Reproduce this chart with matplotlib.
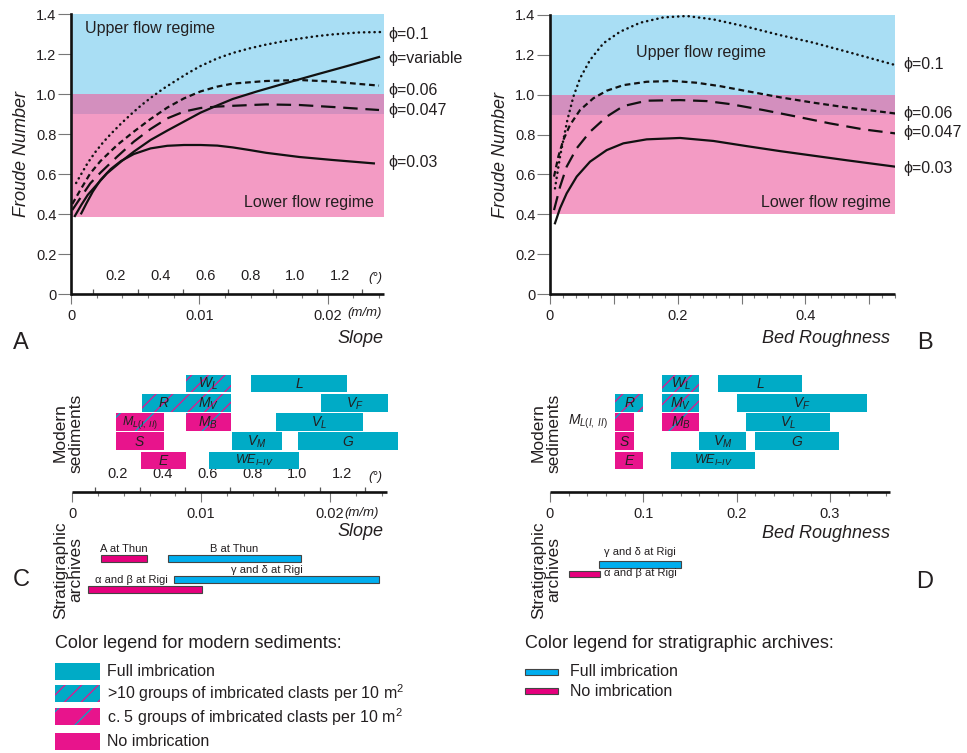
import numpy as np
import matplotlib
matplotlib.use("Agg")
import matplotlib.pyplot as plt
from matplotlib.patches import Rectangle

plt.rcParams['font.family'] = ['Liberation Sans', 'DejaVu Sans']
plt.rcParams['mathtext.fontset'] = 'custom'
plt.rcParams['mathtext.rm'] = 'Liberation Sans'
plt.rcParams['mathtext.it'] = 'Liberation Sans:italic'
plt.rcParams['mathtext.bf'] = 'Liberation Sans:bold'
plt.rcParams['hatch.linewidth'] = 0.9

# ====================== DATA ======================
# Panel A : Froude number vs slope (m/m)
A_phi010_x = [0.0004, 0.0008, 0.0013, 0.0019, 0.0025, 0.0031, 0.0039, 0.0047, 0.0055, 0.0063,
              0.0072, 0.0082, 0.0091, 0.0101, 0.0114, 0.0126, 0.0139, 0.0152, 0.0165, 0.0178,
              0.0191, 0.0204, 0.0225, 0.0243]
A_phi010_y = [0.555, 0.60, 0.655, 0.71, 0.758, 0.80, 0.852, 0.90, 0.945, 0.985,
              1.027, 1.068, 1.104, 1.14, 1.178, 1.205, 1.228, 1.247, 1.263, 1.277,
              1.289, 1.298, 1.308, 1.31]
A_phivar_x = [0.0003, 0.0008, 0.0013, 0.0021, 0.0028, 0.0039, 0.0049, 0.0062, 0.0075, 0.0088,
              0.0101, 0.0114, 0.0126, 0.0145, 0.0165, 0.0191, 0.0217, 0.0240]
A_phivar_y = [0.39, 0.445, 0.495, 0.553, 0.603, 0.662, 0.712, 0.77, 0.817, 0.862,
              0.907, 0.943, 0.975, 1.013, 1.05, 1.097, 1.143, 1.185]
A_phi006_x = [0.0001, 0.0008, 0.0015, 0.0023, 0.0036, 0.0049, 0.0062, 0.0075, 0.0088, 0.0101,
              0.0114, 0.0126, 0.0152, 0.0178, 0.0204, 0.0225, 0.0240]
A_phi006_y = [0.45, 0.528, 0.603, 0.665, 0.745, 0.812, 0.875, 0.932, 0.978, 1.013,
              1.037, 1.052, 1.065, 1.07, 1.062, 1.05, 1.042]
A_phi0047_x = [0.0001, 0.0008, 0.0015, 0.0023, 0.0036, 0.0049, 0.0062, 0.0075, 0.0088, 0.0101,
               0.0114, 0.0126, 0.0152, 0.0178, 0.0204, 0.0240]
A_phi0047_y = [0.42, 0.487, 0.553, 0.607, 0.687, 0.762, 0.825, 0.878, 0.912, 0.93,
               0.937, 0.941, 0.948, 0.945, 0.935, 0.92]
A_phi003_x = [0.0008, 0.0012, 0.0017, 0.0023, 0.0031, 0.0039, 0.0049, 0.0062, 0.0075, 0.0088,
              0.0101, 0.0114, 0.0126, 0.0139, 0.0152, 0.0178, 0.0204, 0.0236]
A_phi003_y = [0.403, 0.453, 0.512, 0.57, 0.625, 0.665, 0.70, 0.728, 0.741, 0.745,
              0.745, 0.742, 0.733, 0.72, 0.706, 0.685, 0.67, 0.653]

# Panel B : Froude number vs bed roughness
B_phi010_x = [0.0078, 0.0115, 0.0157, 0.0209, 0.0272, 0.0366, 0.047, 0.0627, 0.0836, 0.1097,
              0.141, 0.1775, 0.2141, 0.2559, 0.3081, 0.3603, 0.4125, 0.4648, 0.5405]
B_phi010_y = [0.53, 0.605, 0.689, 0.773, 0.873, 0.99, 1.082, 1.174, 1.258, 1.316,
              1.361, 1.388, 1.395, 1.378, 1.341, 1.299, 1.261, 1.216, 1.149]
B_phi006_x = [0.0063, 0.013, 0.0209, 0.0313, 0.047, 0.0679, 0.0888, 0.1149, 0.1514, 0.1932,
              0.2298, 0.2663, 0.3081, 0.3603, 0.4125, 0.4648, 0.5405]
B_phi006_y = [0.589, 0.689, 0.773, 0.848, 0.923, 0.982, 1.02, 1.048, 1.065, 1.069,
              1.06, 1.043, 1.018, 0.987, 0.96, 0.936, 0.906]
B_phi0047_x = [0.0063, 0.0157, 0.0261, 0.0418, 0.0627, 0.0888, 0.1149, 0.1514, 0.2037, 0.2454,
               0.282, 0.3342, 0.3864, 0.4386, 0.4909, 0.5405]
B_phi0047_y = [0.421, 0.538, 0.639, 0.731, 0.814, 0.89, 0.943, 0.97, 0.973, 0.968,
               0.953, 0.923, 0.89, 0.856, 0.826, 0.806]
B_phi003_x = [0.0078, 0.0157, 0.0261, 0.0418, 0.0627, 0.0888, 0.1149, 0.1514, 0.2037, 0.2559,
              0.3081, 0.3603, 0.4125, 0.4648, 0.5405]
B_phi003_y = [0.355, 0.43, 0.505, 0.589, 0.664, 0.722, 0.756, 0.776, 0.783, 0.768,
              0.742, 0.717, 0.694, 0.671, 0.639]

PHI_LABELS_A = ['\u03d5=0.1', '\u03d5=variable', '\u03d5=0.06', '\u03d5=0.047', '\u03d5=0.03']
PHI_LABELS_B = ['\u03d5=0.1', '\u03d5=0.06', '\u03d5=0.047', '\u03d5=0.03']

# Flow regime limits (Froude number)
UPPER_REGIME = (1.0, 1.4)
TRANSITION = (0.9, 1.0)
LOWER_REGIME_A = (0.385, 0.9)
LOWER_REGIME_B = (0.4, 0.9)

FROUDE_TICKS = [0, 0.2, 0.4, 0.6, 0.8, 1.0, 1.2, 1.4]
FROUDE_TICKLABELS = ['0', '0.2', '0.4', '0.6', '0.8', '1.0', '1.2', '1.4']
SLOPE_TICKS = [0, 0.01, 0.02]
SLOPE_TICKLABELS = ['0', '0.01', '0.02']
DEG_TICKS = [0.2, 0.4, 0.6, 0.8, 1.0, 1.2]
DEG_MINOR = [0.1, 0.3, 0.5, 0.7, 0.9, 1.1, 1.3]
ROUGH_TICKS_B = [0, 0.1, 0.2, 0.3, 0.4, 0.5]
ROUGH_TICKLABELS_B = ['0', '', '0.2', '', '0.4', '']
ROUGH_TICKS_D = [0, 0.1, 0.2, 0.3]
ROUGH_TICKLABELS_D = ['0', '0.1', '0.2', '0.3']

# Panel C : modern sediments, slope ranges (m/m)
# class: 'full' = full imbrication, 'many' = >10 groups, 'some' = c. 5 groups, 'none' = no imbrication
C_names = [r'$W_L$', r'$L$', r'$R$', r'$M_V$', r'$V_F$', r'$M_{L(I,\ II)}$', r'$M_B$', r'$V_L$',
           r'$S$', r'$V_M$', r'$G$', r'$E$', r'$WE_{I{-}IV}$']
C_row = [0, 0, 1, 1, 1, 2, 2, 2, 3, 3, 3, 4, 4]
C_start = [0.00882, 0.01387, 0.00543, 0.00882, 0.01928, 0.00339, 0.00882, 0.01581,
           0.00337, 0.01237, 0.01749, 0.00533, 0.01063]
C_end = [0.01229, 0.02130, 0.00882, 0.01229, 0.02453, 0.00712, 0.01229, 0.02254,
         0.00709, 0.01630, 0.02530, 0.00882, 0.01762]
C_class = ['many', 'full', 'many', 'many', 'full', 'some', 'some', 'full',
           'none', 'full', 'full', 'none', 'full']

# Panel D : modern sediments, bed roughness ranges
D_names = [r'$W_L$', r'$L$', r'$R$', r'$M_V$', r'$V_F$', r'$M_{L(I,\ II)}$', r'$M_B$', r'$V_L$',
           r'$S$', r'$V_M$', r'$G$', r'$E$', r'$WE_{I{-}IV}$']
D_row = [0, 0, 1, 1, 1, 2, 2, 2, 3, 3, 3, 4, 4]
D_start = [0.12, 0.18, 0.07, 0.12, 0.20, 0.07, 0.12, 0.21, 0.07, 0.16, 0.22, 0.07, 0.13]
D_end = [0.16, 0.27, 0.10, 0.16, 0.34, 0.09, 0.16, 0.30, 0.09, 0.21, 0.31, 0.10, 0.22]
D_class = ['many', 'full', 'many', 'many', 'full', 'some', 'some', 'full',
           'none', 'full', 'full', 'none', 'full']

# Stratigraphic archives
CS_names = ['A at Thun', 'B at Thun', '\u03b3 and \u03b4 at Rigi', '\u03b1 and \u03b2 at Rigi']
CS_start = [0.00223, 0.00745, 0.00792, 0.00124]
CS_end = [0.00577, 0.01772, 0.02383, 0.01004]
CS_imbricated = [False, True, True, False]
DS_names = ['\u03b3 and \u03b4 at Rigi', '\u03b1 and \u03b2 at Rigi']
DS_start = [0.052, 0.020]
DS_end = [0.140, 0.054]
DS_imbricated = [True, False]

LEGEND_MODERN = ['Full imbrication', '>10 groups of imbricated clasts per 10 m$^2$',
                 'c. 5 groups of imbricated clasts per 10 m$^2$', 'No imbrication']
LEGEND_MODERN_CLASS = ['full', 'many', 'some', 'none']
LEGEND_STRAT = ['Full imbrication', 'No imbrication']

# ====================== STYLE ======================
TXT = '#231F20'
BLUE_BG = '#A9DEF4'
PINK_BG = '#F39BC4'
PURPLE_BG = '#D38FBE'
CYAN = '#00ABC6'
MAGENTA = '#E8148C'
S_CYAN = '#00AEEF'
S_MAG = '#E5007D'
TICKC = '#777777'

W, H = 967, 753
fig = plt.figure(figsize=(W / 100, H / 100), dpi=100)


def add_ax(x0, y0, x1, y1):
    return fig.add_axes([x0 / W, 1 - y1 / H, (x1 - x0) / W, (y1 - y0) / H])


def fx(px):
    return px / W


def fy(py):
    return 1 - py / H


SOLID = dict(ls='-', lw=1.6)
DOTTED = dict(ls=(0, (0.1, 2.0)), lw=1.8, dash_capstyle='round')
SHORT = dict(ls=(0, (2.6, 1.7)), lw=1.6)
LONG = dict(ls=(0, (6.5, 3.5)), lw=1.6)


def style_bottom_spine(ax):
    ax.spines['bottom'].set_linewidth(1.9)
    ax.spines['bottom'].set_color('#111111')
    ax.spines['bottom'].set_capstyle('butt')


def froude_axes(ax, xmax, lower):
    ax.set_xlim(0, xmax)
    ax.set_ylim(0, 1.4)
    ax.axhspan(*UPPER_REGIME, color=BLUE_BG, lw=0, zorder=0)
    ax.axhspan(*TRANSITION, color=PURPLE_BG, lw=0, zorder=0)
    ax.axhspan(*lower, color=PINK_BG, lw=0, zorder=0)
    ax.set_facecolor('none')
    for s in ['top', 'right']:
        ax.spines[s].set_visible(False)
    ax.spines['left'].set_linewidth(1.9)
    ax.spines['left'].set_color('#111111')
    style_bottom_spine(ax)
    ax.set_yticks(FROUDE_TICKS)
    ax.set_yticklabels(FROUDE_TICKLABELS)
    ax.tick_params(axis='y', length=9.5, width=0.8, color=TICKC, pad=1,
                   labelsize=10.5, labelcolor=TXT)
    ax.set_ylabel('Froude Number', fontsize=13, style='italic', color=TXT, labelpad=4)


def slope_xaxis(ax):
    ax.set_xticks(SLOPE_TICKS)
    ax.set_xticklabels(SLOPE_TICKLABELS)
    ax.set_xticks(np.arange(0.002, 0.0245, 0.002), minor=True)
    ax.tick_params(axis='x', which='major', length=7.5, width=0.8, color=TICKC, pad=3,
                   labelsize=10.5, labelcolor=TXT)
    ax.tick_params(axis='x', which='minor', length=3, width=0.8, color=TICKC)
    sec = ax.secondary_xaxis('bottom', functions=(lambda s: np.degrees(np.arctan(s)),
                                                  lambda d: np.tan(np.radians(d))))
    sec.set_xticks(DEG_TICKS)
    sec.set_xticklabels([f'{d:.1f}' for d in DEG_TICKS])
    sec.set_xticks(DEG_MINOR, minor=True)
    sec.tick_params(axis='x', which='major', direction='in', length=0, pad=-18,
                    labelsize=10.5, labelcolor=TXT)
    sec.tick_params(axis='x', which='minor', direction='in', length=3.5, width=0.9, color='#555555')
    for sp in sec.spines.values():
        sp.set_visible(False)


def rough_xaxis(ax, ticks, labels, xmax):
    ax.set_xticks(ticks)
    ax.set_xticklabels(labels)
    ax.set_xticks(np.arange(0.02, xmax, 0.02), minor=True)
    ax.tick_params(axis='x', which='major', length=7.5, width=0.8, color=TICKC, pad=3,
                   labelsize=10.5, labelcolor=TXT)
    ax.tick_params(axis='x', which='minor', length=3, width=0.8, color=TICKC)


# ---------------- Panel A ----------------
axA = add_ax(71, 14, 383.5, 294)
froude_axes(axA, 0.02435, LOWER_REGIME_A)
slope_xaxis(axA)
axA.plot(A_phi010_x, A_phi010_y, color='#111111', **DOTTED)
axA.plot(A_phivar_x, A_phivar_y, color='#111111', **SOLID)
axA.plot(A_phi006_x, A_phi006_y, color='#111111', **SHORT)
axA.plot(A_phi0047_x, A_phi0047_y, color='#111111', **LONG)
axA.plot(A_phi003_x, A_phi003_y, color='#111111', **SOLID)
for lab, yv in zip(PHI_LABELS_A, [1.30, 1.18, 1.02, 0.92, 0.655]):
    axA.text(0.0247, yv, lab, fontsize=11.5, color=TXT, va='center', ha='left', clip_on=False)
axA.text(0.0011, 1.33, 'Upper flow regime', fontsize=11.5, color=TXT, va='center', ha='left')
axA.text(0.0236, 0.46, 'Lower flow regime', fontsize=11.5, color=TXT, va='center', ha='right')

# ---------------- Panel B ----------------
axB = add_ax(550, 15, 894.8, 294)
froude_axes(axB, 0.54, LOWER_REGIME_B)
rough_xaxis(axB, ROUGH_TICKS_B, ROUGH_TICKLABELS_B, 0.545)
axB.plot(B_phi010_x, B_phi010_y, color='#111111', **DOTTED)
axB.plot(B_phi006_x, B_phi006_y, color='#111111', **SHORT)
axB.plot(B_phi0047_x, B_phi0047_y, color='#111111', **LONG)
axB.plot(B_phi003_x, B_phi003_y, color='#111111', **SOLID)
for lab, yv in zip(PHI_LABELS_B, [1.154, 0.908, 0.808, 0.632]):
    axB.text(0.553, yv, lab, fontsize=11.5, color=TXT, va='center', ha='left', clip_on=False)
axB.text(0.1347, 1.21, 'Upper flow regime', fontsize=11.5, color=TXT, va='center', ha='left')
axB.text(0.534, 0.46, 'Lower flow regime', fontsize=11.5, color=TXT, va='center', ha='right')

# ---------------- bar panels ----------------
ROW_H = 0.914


def modern_bars(ax, names, rows, starts, ends, classes, outside=()):
    for nm, r, s, e, c in zip(names, rows, starts, ends, classes):
        face = CYAN if c in ('full', 'many') else MAGENTA
        ax.barh(r, e - s, left=s, height=ROW_H, color=face, lw=0, zorder=2)
        if c == 'many':
            ax.barh(r, e - s, left=s, height=ROW_H, facecolor='none', edgecolor=MAGENTA,
                    hatch='//', lw=0, zorder=3)
        elif c == 'some':
            ax.barh(r, e - s, left=s, height=ROW_H, facecolor='none', edgecolor=CYAN,
                    hatch='/', lw=0, zorder=3)
        if nm in outside:
            ax.annotate(nm, xy=(s, r), xytext=(-5, 0), textcoords='offset points',
                        ha='right', va='center', fontsize=10, color=TXT, annotation_clip=False)
        else:
            fs = 9 if len(nm) > 10 else 10
            ax.text((s + e) / 2, r + 0.03, nm, ha='center', va='center', fontsize=fs,
                    color=TXT, zorder=4)


def bar_axes(ax, xmax, spine_end):
    ax.set_xlim(0, xmax)
    ax.set_ylim(5.655, -0.611)
    ax.set_facecolor('none')
    for s in ['top', 'right', 'left']:
        ax.spines[s].set_visible(False)
    style_bottom_spine(ax)
    ax.spines['bottom'].set_bounds(0, spine_end)
    ax.set_yticks([])


def strat_axes(ax, xmax):
    ax.set_xlim(0, xmax)
    ax.set_ylim(2.986, 0.129)
    ax.axis('off')


def strat_bars(ax, names, starts, ends, imbr, rows, offsets, has):
    for nm, s, e, im, r, off, ha in zip(names, starts, ends, imbr, rows, offsets, has):
        ax.barh(r, e - s, left=s, height=0.32, color=S_CYAN if im else S_MAG,
                edgecolor='#444444', lw=0.8)
        xa = (s + e) / 2 if ha == 'center' else e
        ax.annotate(nm, xy=(xa, r), xytext=off, textcoords='offset points', ha=ha,
                    va='center', fontsize=8, color=TXT, annotation_clip=False)


# ---- Panel C ----
axC = add_ax(72.3, 372, 402.2, 492)
bar_axes(axC, 0.0256, 0.0244)
slope_xaxis(axC)
modern_bars(axC, C_names, C_row, C_start, C_end, C_class)
axCs = add_ax(72.3, 540, 402.2, 600)
strat_axes(axCs, 0.0256)
strat_bars(axCs, CS_names, CS_start, CS_end, CS_imbricated, [1.0, 1.0, 2.0, 2.476],
           [(0, 7), (0, 7), (-7, 7), (-10, 7)], ['center'] * 4)

# ---- Panel D ----
axD = add_ax(550, 372, 890, 492)
bar_axes(axD, 0.3643, 0.3643)
rough_xaxis(axD, ROUGH_TICKS_D, ROUGH_TICKLABELS_D, 0.365)
modern_bars(axD, D_names, D_row, D_start, D_end, D_class, outside=(r'$M_{L(I,\ II)}$',))
axDs = add_ax(550, 540, 890, 600)
strat_axes(axDs, 0.3643)
strat_bars(axDs, DS_names, DS_start, DS_end, DS_imbricated, [1.286, 1.748],
           [(0, 8.5), (2.5, 0.5)], ['center', 'left'])

# ---------------- axis titles & units ----------------
for xr, yc, lab in [(383, 338, 'Slope'), (890, 338, 'Bed Roughness'),
                    (383, 532, 'Slope'), (890, 534, 'Bed Roughness')]:
    fig.text(fx(xr), fy(yc), lab, fontsize=13, style='italic', color=TXT, ha='right', va='center')
for xc, yc in [(365, 313), (362, 513)]:
    fig.text(fx(xc), fy(yc), '(m/m)', fontsize=9.5, style='italic', color=TXT, ha='center', va='center')
for xc, yc in [(375, 278), (375, 477)]:
    fig.text(fx(xc), fy(yc), '(\u00b0)', fontsize=9.5, style='italic', color=TXT, ha='center', va='center')

for xc, yc, lab in [(21, 343, 'A'), (925, 343, 'B'), (21, 580, 'C'), (925, 582, 'D')]:
    fig.text(fx(xc), fy(yc), lab, fontsize=17, color=TXT, ha='center', va='center')

for xc in [68, 546]:
    fig.text(fx(xc), fy(433), 'Modern\nsediments', fontsize=12.5, color=TXT, rotation=90,
             ha='center', va='center', multialignment='center', linespacing=1.0)
    fig.text(fx(xc), fy(570), 'Stratigraphic\narchives', fontsize=12.5, color=TXT, rotation=90,
             ha='center', va='center', multialignment='center', linespacing=1.0)

# ---------------- legends ----------------
fig.text(fx(55), fy(643.3), 'Color legend for modern sediments:', fontsize=13, color=TXT,
         ha='left', va='center')
for lab, cls, yc in zip(LEGEND_MODERN, LEGEND_MODERN_CLASS, [671.7, 693.3, 716.7, 741]):
    face = CYAN if cls in ('full', 'many') else MAGENTA
    fig.add_artist(Rectangle((fx(55), fy(yc + 8.5)), 45 / W, 17 / H, transform=fig.transFigure,
                             facecolor=face, lw=0))
    if cls == 'many':
        fig.add_artist(Rectangle((fx(55), fy(yc + 8.5)), 45 / W, 17 / H, transform=fig.transFigure,
                                 facecolor='none', edgecolor=MAGENTA, hatch='//', lw=0))
    elif cls == 'some':
        fig.add_artist(Rectangle((fx(55), fy(yc + 8.5)), 45 / W, 17 / H, transform=fig.transFigure,
                                 facecolor='none', edgecolor=CYAN, hatch='/', lw=0))
    fig.text(fx(107), fy(yc), lab, fontsize=11.5, color=TXT, ha='left', va='center')

fig.text(fx(525), fy(643.3), 'Color legend for stratigraphic archives:', fontsize=13, color=TXT,
         ha='left', va='center')
for lab, col, yc in zip(LEGEND_STRAT, [S_CYAN, S_MAG], [671.7, 691]):
    fig.add_artist(Rectangle((fx(525), fy(yc + 3)), 33 / W, 6 / H, transform=fig.transFigure,
                             facecolor=col, edgecolor='#444444', lw=0.8))
    fig.text(fx(570), fy(yc), lab, fontsize=11.5, color=TXT, ha='left', va='center')

fig.savefig('out.png', dpi=100)
